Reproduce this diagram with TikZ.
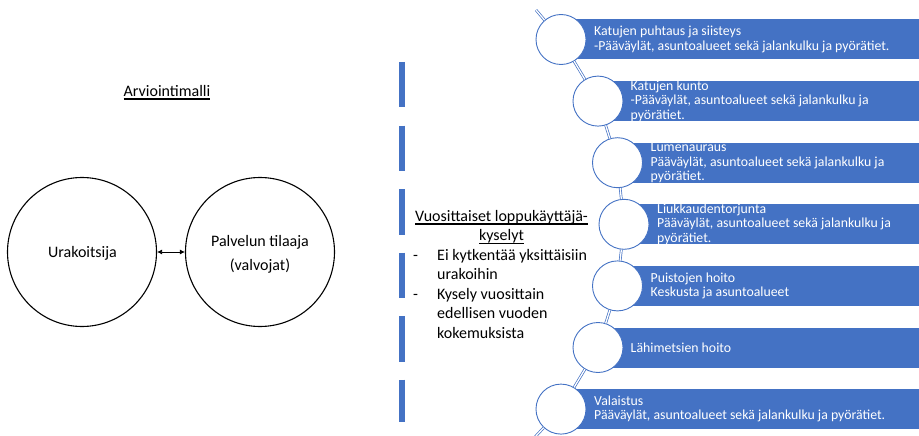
\documentclass[tikz,border=0pt]{standalone}
\usepackage{fontspec}
\setmainfont{Carlito}
\usetikzlibrary{arrows.meta}
\definecolor{accblue}{HTML}{4472C4}
\newcommand{\myul}[1]{\leavevmode\setbox0=\hbox{#1}\rlap{\rule[-3.6pt]{\wd0}{1.5pt}}\box0}
\begin{document}
\begin{tikzpicture}[x=1pt,y=-1pt,
  bigcirc/.style={circle, draw=black, line width=1.1pt, minimum size=149pt, inner sep=0pt},
  bigtxt/.style={font=\fontsize{16}{19.5}\selectfont, inner sep=0pt, anchor=base},
  listtxt/.style={font=\fontsize{16}{19.5}\selectfont, inner sep=0pt, anchor=base west},
  dot/.style={circle, draw=accblue, fill=white, line width=0.9pt, minimum size=50pt, inner sep=0pt},
  bartxt/.style={font=\fontsize{13.8}{14.5}\selectfont, text=white, align=left, anchor=west, inner sep=0pt},
  link/.style={draw=accblue, double=white, line width=0.7pt, double distance=1.3pt},
  dashbar/.style={draw=accblue, line width=5.5pt, dash pattern=on 45.5pt off 18pt}]
\useasboundingbox (0,0) rectangle (919,436);

% ---- left part
\node[bigtxt] (title) at (167,96) {\myul{Arviointimalli}};
\node[bigcirc] (ura) at (82,252) {};
\node[bigcirc] (pal) at (260,252) {};
\node[bigtxt] (uratxt) at (82.5,257) {Urakoitsija};
\node[bigtxt] (paltxta) at (260,246.5) {Palvelun tilaaja};
\node[bigtxt] (paltxtb) at (260,270.5) {(valvojat)};
\draw[{Latex[length=5pt,width=5pt]}-{Latex[length=5pt,width=5pt]}, line width=0.8pt] (ura) -- (pal);

% ---- dashed divider
\coordinate (dtop) at (402,62);
\coordinate (dbot) at (402,422);
\draw[dashbar] (dtop) -- (dbot);

% ---- middle text
\node[bigtxt] (hdra) at (501.5,221) {\myul{Vuosittaiset loppukäyttäjä-}};
\node[bigtxt] (hdrb) at (501.5,240.5) {\myul{kyselyt}};
\node[listtxt] (dasha) at (413,260) {-};
\node[listtxt] (lia) at (437,260) {Ei kytkentää yksittäisiin};
\node[listtxt] (lib) at (437,279.5) {urakoihin};
\node[listtxt] (dashb) at (413,299) {-};
\node[listtxt] (lic) at (437,299) {Kysely vuosittain};
\node[listtxt] (lid) at (437,318.5) {edellisen vuoden};
\node[listtxt] (lie) at (437,338) {kokemuksista};

% ---- right timeline bars
\fill[accblue] (561,19.5) rectangle (919,59.5);
\fill[accblue] (598,81.1) rectangle (919,121.1);
\fill[accblue] (617.5,142.7) rectangle (919,182.7);
\fill[accblue] (624,204.3) rectangle (919,244.3);
\fill[accblue] (617.5,265.9) rectangle (919,305.9);
\fill[accblue] (598,327.5) rectangle (919,367.5);
\fill[accblue] (561,389.1) rectangle (919,429.1);

\node[bartxt] (ta) at (594,39.5) {Katujen puhtaus ja siisteys\\-Pääväylät, asuntoalueet sekä jalankulku ja pyörätiet.};
\node[bartxt] (tb) at (630.5,101.1) {Katujen kunto\\-Pääväylät, asuntoalueet sekä jalankulku ja\\pyörätiet.};
\node[bartxt] (tc) at (650.5,162.7) {Lumenauraus\\Pääväylät, asuntoalueet sekä jalankulku ja\\pyörätiet.};
\node[bartxt] (td) at (657,224.3) {Liukkaudentorjunta\\Pääväylät, asuntoalueet sekä jalankulku ja\\pyörätiet.};
\node[bartxt] (te) at (650.5,285.9) {Puistojen hoito\\Keskusta ja asuntoalueet};
\node[bartxt] (tf) at (630.5,347.5) {Lähimetsien hoito};
\node[bartxt] (tg) at (594,409.1) {Valaistus\\Pääväylät, asuntoalueet sekä jalankulku ja pyörätiet.};

% ---- circles
\node[dot] (da) at (561,39.5) {};
\node[dot] (db) at (598,101.1) {};
\node[dot] (dc) at (617.5,162.7) {};
\node[dot] (dd) at (624,224.3) {};
\node[dot] (de) at (617.5,285.9) {};
\node[dot] (df) at (598,347.5) {};
\node[dot] (dg) at (561,409.1) {};

\coordinate (ltop) at (536,10);
\coordinate (lbot) at (535,437);
\draw[link] (ltop) -- (da);
\draw[link] (da) -- (db);
\draw[link] (db) -- (dc);
\draw[link] (dc) -- (dd);
\draw[link] (dd) -- (de);
\draw[link] (de) -- (df);
\draw[link] (df) -- (dg);
\draw[link] (dg) -- (lbot);
\end{tikzpicture}
\end{document}
